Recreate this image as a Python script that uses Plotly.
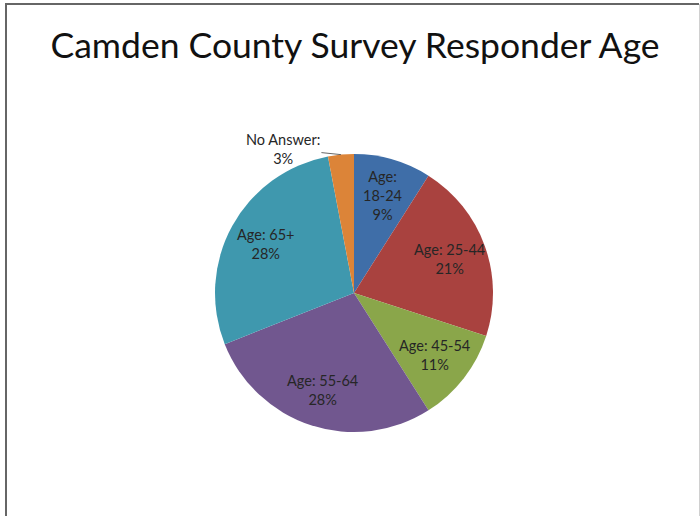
import math
import plotly.graph_objects as go

categories = ["Age: 18-24", "Age: 25-44", "Age: 45-54", "Age: 55-64", "Age: 65+", "No Answer"]
label_lines = ["Age:<br>18-24", "Age: 25-44", "Age: 45-54", "Age: 55-64", "Age: 65+", "No Answer:"]
values = [9, 21, 11, 28, 28, 3]
colors = ["#3F6EA8", "#A9423F", "#8AA64A", "#71578F", "#3F98AE", "#DC8438"]

W, H = 700, 516
cx, cy, R = 354, 293, 139  # pie centre / radius in pixels (layout)

total = sum(values)
texts = [f"{l}<br>{round(v / total * 100)}%" for l, v in zip(label_lines, values)]

fig = go.Figure(go.Pie(
    labels=categories,
    values=values,
    textinfo="none",
    sort=False,
    direction="clockwise",
    rotation=0,
    marker=dict(colors=colors, line=dict(width=0)),
    showlegend=False,
    hoverinfo="label+percent",
    domain=dict(x=[(cx - R) / W, (cx + R) / W], y=[1 - (cy + R) / H, 1 - (cy - R) / H]),
))

# data labels placed from slice mid-angles
annotations = []
cum = 0
for i, (v, t) in enumerate(zip(values, texts)):
    mid = (cum + v / 2) / total * 2 * math.pi
    cum += v
    if i < len(values) - 1:
        r = 0.73 * R
        px = cx + r * math.sin(mid)
        py = cy - r * math.cos(mid)
        annotations.append(dict(x=px / W, y=1 - py / H, xref="paper", yref="paper",
                                xanchor="center", yanchor="middle",
                                text=t, showarrow=False, align="center",
                                font=dict(family="Lato", size=14.5, color="#262626")))
    else:
        px = cx + R * math.sin(mid)
        py = cy - R * math.cos(mid)
        annotations.append(dict(x=px / W, y=1 - py / H, xref="paper", yref="paper",
                                text=t, showarrow=True, arrowhead=0, arrowwidth=0.8,
                                arrowcolor="#404040", ax=-58, ay=-6, align="center",
                                font=dict(family="Lato", size=14.5, color="#262626")))

fig.update_layout(
    width=W, height=H,
    margin=dict(l=0, r=0, t=0, b=0),
    paper_bgcolor="white",
    title=dict(text="Camden County Survey Responder Age", x=355 / W, xanchor="center",
               y=1 - 46 / H, yanchor="middle",
               font=dict(family="Lato", size=35.5, color="#111111")),
    annotations=annotations,
    shapes=[
        dict(type="line", xref="paper", yref="paper",
             x0=6 / W, x1=6 / W, y0=-0.02, y1=1 - 4 / H,
             line=dict(color="#666666", width=2)),
        dict(type="line", xref="paper", yref="paper",
             x0=5 / W, x1=699 / W, y0=1 - 4 / H, y1=1 - 4 / H,
             line=dict(color="#666666", width=2)),
        dict(type="line", xref="paper", yref="paper",
             x0=699.5 / W, x1=699.5 / W, y0=-0.02, y1=1 - 4 / H,
             line=dict(color="#D0D0D0", width=1)),
    ],
)

fig.write_html("out.html", config={"displayModeBar": False},
               post_script="document.body.style.margin='0px';")
